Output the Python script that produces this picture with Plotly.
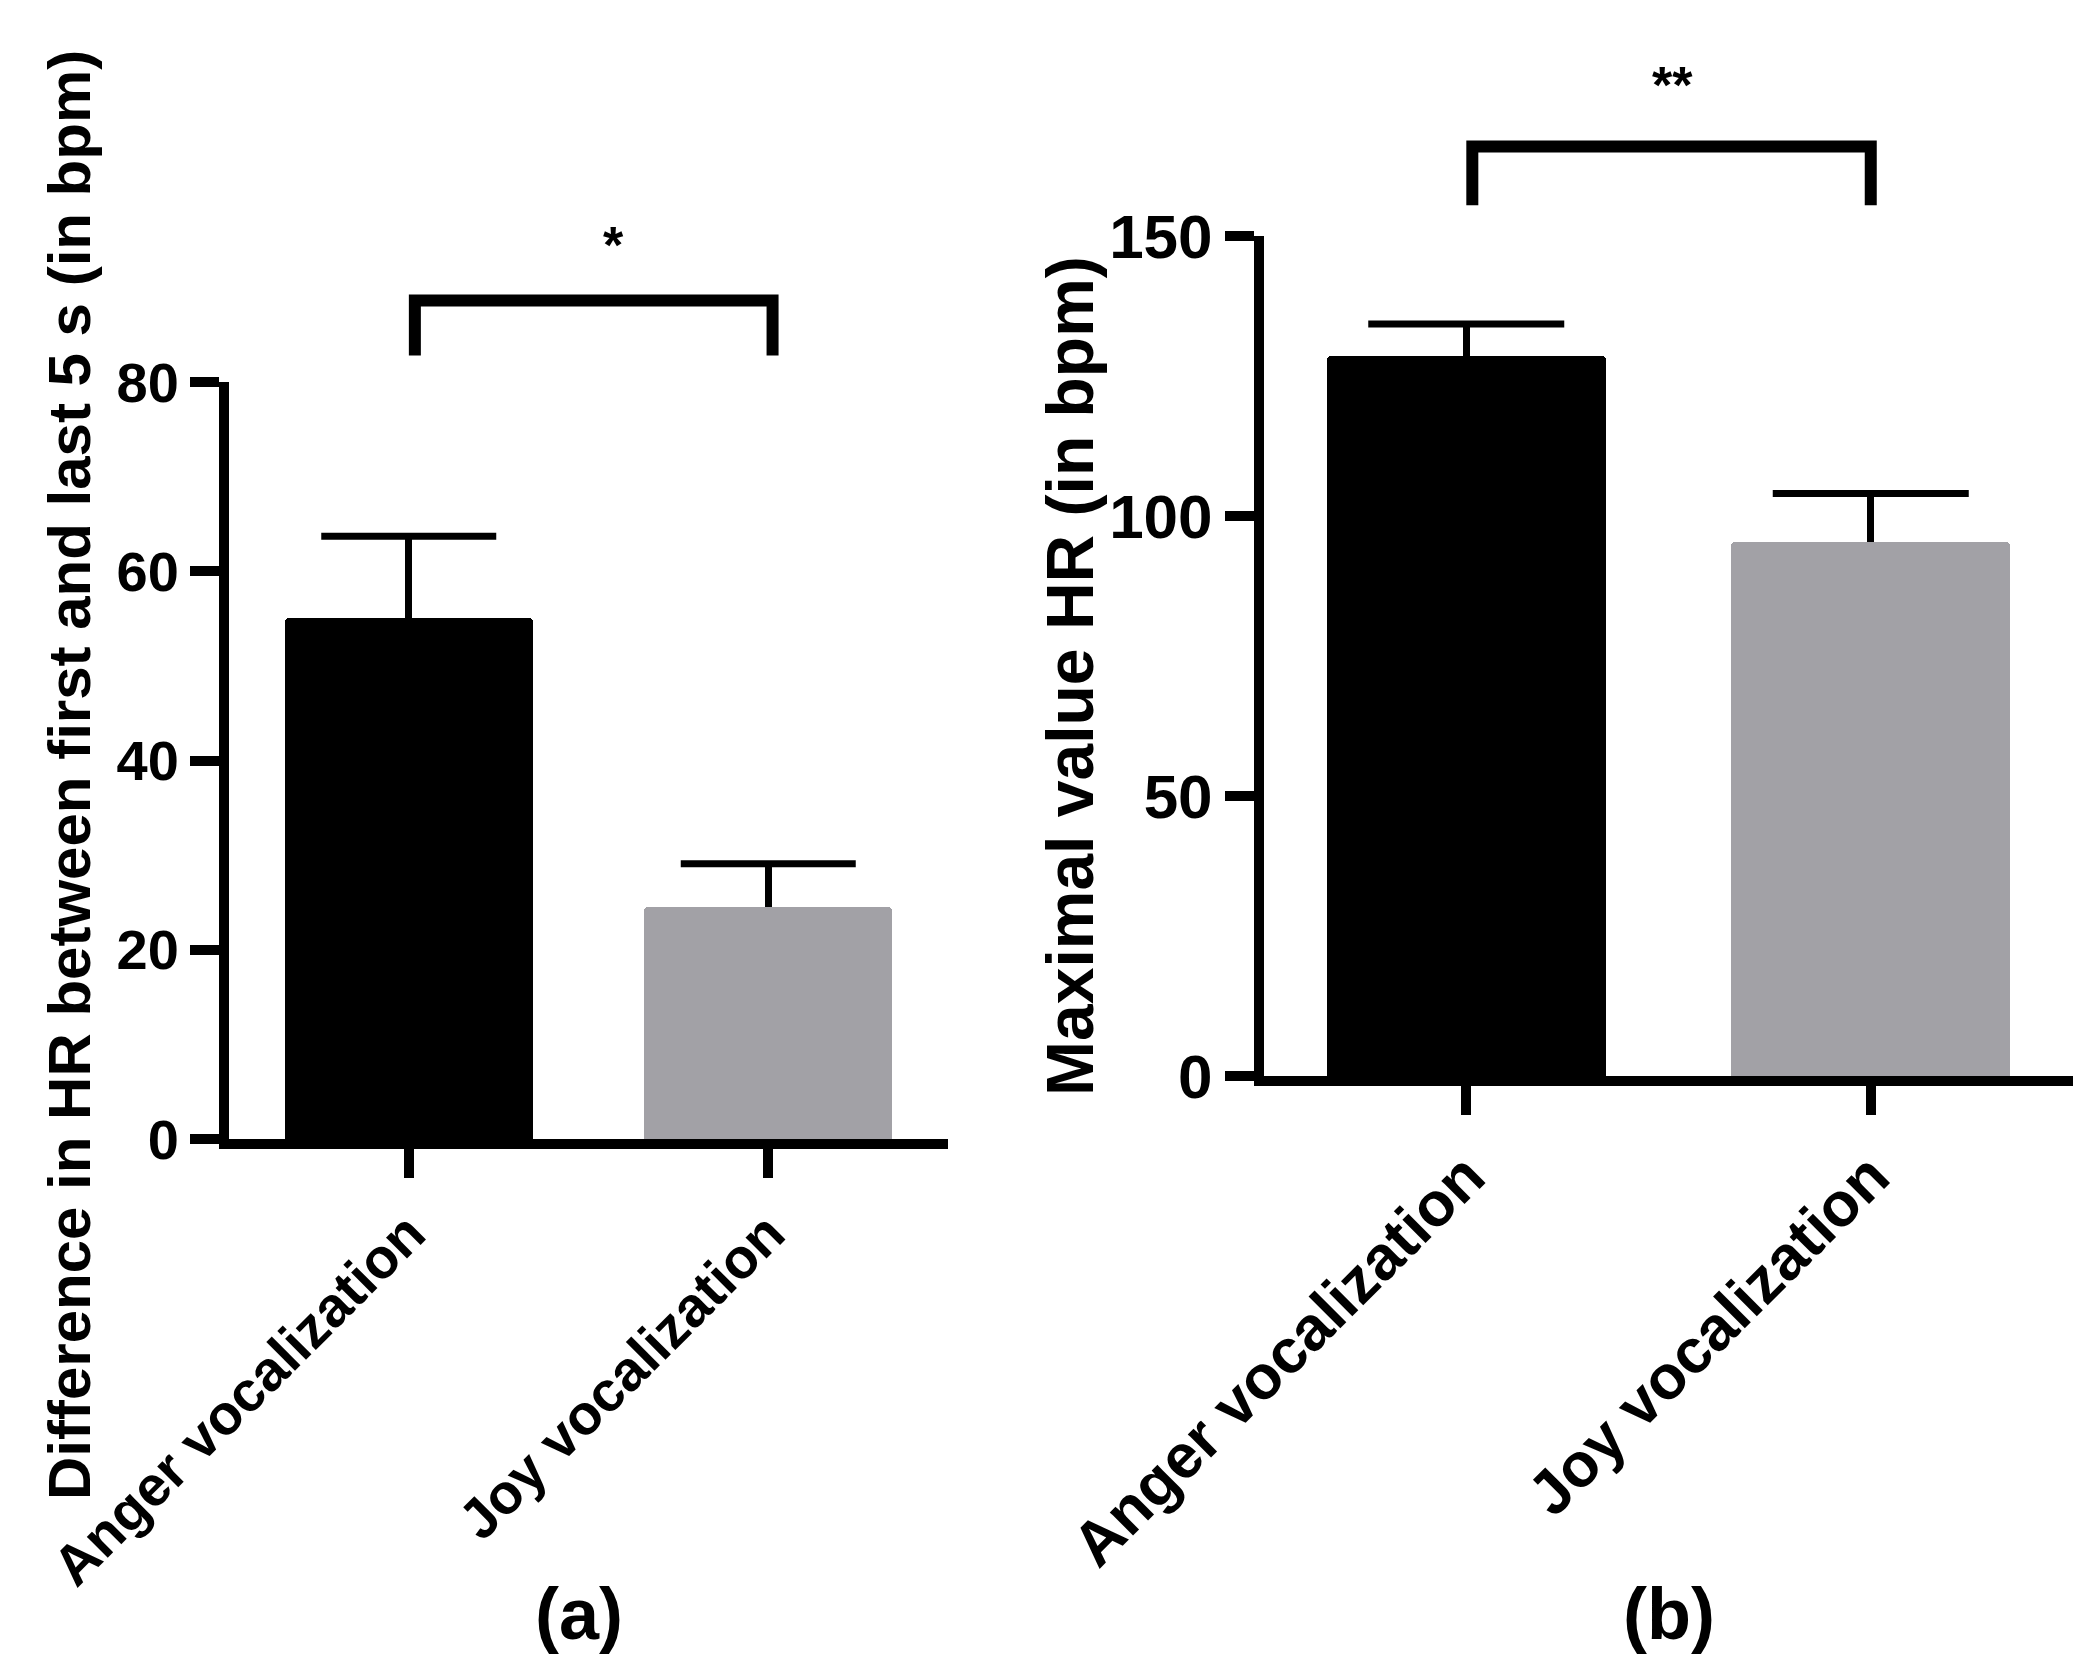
import plotly.graph_objects as go

# data
categories = ['Anger vocalization', 'Joy vocalization']
cat_pos = [0, 1]
bar_colors = ['#000000', '#a2a1a6']

diff_hr_mean = [55.1, 24.5]   # (a) difference first vs last 5 s
diff_hr_sem = [8.6, 4.6]
max_hr_mean = [128.6, 95.4]   # (b) maximal HR
max_hr_sem = [5.7, 8.6]

diff_ticks = [0, 20, 40, 60, 80]
max_ticks = [0, 50, 100, 150]

# significance brackets: [left x, right x], [leg bottom, bar top], star position
sig_a_x = [0.017, 1.012]
sig_a_y = [82.8, 88.6]
sig_a_label = '*'
sig_a_star = [0.57, 94.5]
sig_b_x = [0.015, 1.0]
sig_b_y = [155.5, 166.0]
sig_b_label = '**'
sig_b_star = [0.51, 177.0]

W, H = 2094, 1677
FONT = 'Liberation Sans, Arial, sans-serif'


def px_x(p):
    return p / W


def px_y(p):
    return 1 - p / H


fig = go.Figure()

panels = [
    dict(mean=diff_hr_mean, sem=diff_hr_sem, xa='x', ya='y', cap=125,
         sig_x=sig_a_x, sig_y=sig_a_y, label=sig_a_label, star=sig_a_star,
         yrange=[0, 80]),
    dict(mean=max_hr_mean, sem=max_hr_sem, xa='x2', ya='y2', cap=140,
         sig_x=sig_b_x, sig_y=sig_b_y, label=sig_b_label, star=sig_b_star,
         yrange=[0, 150]),
]

for p in panels:
    fig.add_trace(go.Bar(
        x=cat_pos, y=p['mean'], width=0.69,
        marker=dict(color=bar_colors, line=dict(width=0), cornerradius=4),
        error_y=dict(type='data', array=p['sem'], arrayminus=[0, 0], symmetric=False,
                     width=0, thickness=7, color='black'),
        xaxis=p['xa'], yaxis=p['ya'], showlegend=False,
    ))
    # error bar hats
    fig.add_trace(go.Scatter(
        x=cat_pos, y=[m + s for m, s in zip(p['mean'], p['sem'])],
        mode='markers', cliponaxis=False,
        marker=dict(symbol='line-ew', size=p['cap'], color='black',
                    line=dict(width=7, color='black')),
        xaxis=p['xa'], yaxis=p['ya'], showlegend=False, hoverinfo='skip',
    ))
    # significance bracket and stars (axis-domain units so they can sit above the range)
    y0, y1 = p['yrange']
    frac = lambda v: (v - y0) / (y1 - y0)
    lo, hi = frac(p['sig_y'][0]), frac(p['sig_y'][1])
    fig.add_shape(
        type='path', xref=p['xa'], yref=p['ya'] + ' domain',
        path=f"M {p['sig_x'][0]},{lo} L {p['sig_x'][0]},{hi} L {p['sig_x'][1]},{hi} L {p['sig_x'][1]},{lo}",
        line=dict(color='black', width=12),
    )
    fig.add_annotation(
        x=(p['star'][0] + 0.5) / 2.0, y=frac(p['star'][1]),
        xref=p['xa'] + ' domain', yref=p['ya'] + ' domain',
        xanchor='center', yanchor='middle',
        text=p['label'], showarrow=False,
        font=dict(family=FONT, size=52, color='black', weight='bold'),
    )

axis_common = dict(showline=True, linecolor='black', linewidth=10,
                   ticks='outside', ticklen=29, tickwidth=10, tickcolor='black',
                   showgrid=False, zeroline=False, fixedrange=True, automargin=False)

fig.update_layout(
    template='none',
    width=W, height=H, autosize=False,
    margin=dict(l=0, r=0, t=0, b=0),
    plot_bgcolor='white', paper_bgcolor='white',
    bargap=0,
    xaxis=dict(domain=[px_x(221), px_x(940)], range=[-0.5, 1.5],
               tickvals=cat_pos, ticktext=categories, tickangle=-45,
               tickfont=dict(family=FONT, size=56, color='black', weight='bold'),
               anchor='y', **axis_common),
    yaxis=dict(domain=[px_y(1131), px_y(374)], range=[0, 80],
               tickvals=diff_ticks,
               tickfont=dict(family=FONT, size=56, color='black', weight='bold'),
               anchor='x', **axis_common),
    xaxis2=dict(domain=[px_x(1256), px_x(2065)], range=[-0.5, 1.5],
                tickvals=cat_pos, ticktext=categories, tickangle=-45,
                tickfont=dict(family=FONT, size=62, color='black', weight='bold'),
                anchor='y2', **axis_common),
    yaxis2=dict(domain=[px_y(1068), px_y(228)], range=[0, 150],
                tickvals=max_ticks,
                tickfont=dict(family=FONT, size=62, color='black', weight='bold'),
                anchor='x2', **axis_common),
)

# axis titles and panel labels
text_items = [
    ('Difference in HR between first and last 5 s (in bpm)', 62, 767, 60, -90),
    ('Maximal value HR (in bpm)', 1062, 668, 66, -90),
    ('(a)', 571, 1606, 72, 0),
    ('(b)', 1661, 1606, 72, 0),
]
for text, x, y, size, angle in text_items:
    fig.add_annotation(
        x=px_x(x), y=px_y(y), xref='paper', yref='paper',
        xanchor='center', yanchor='middle',
        text=text, textangle=angle, showarrow=False,
        font=dict(family=FONT, size=size, color='black', weight='bold'),
    )

fig.write_html("out.html")
